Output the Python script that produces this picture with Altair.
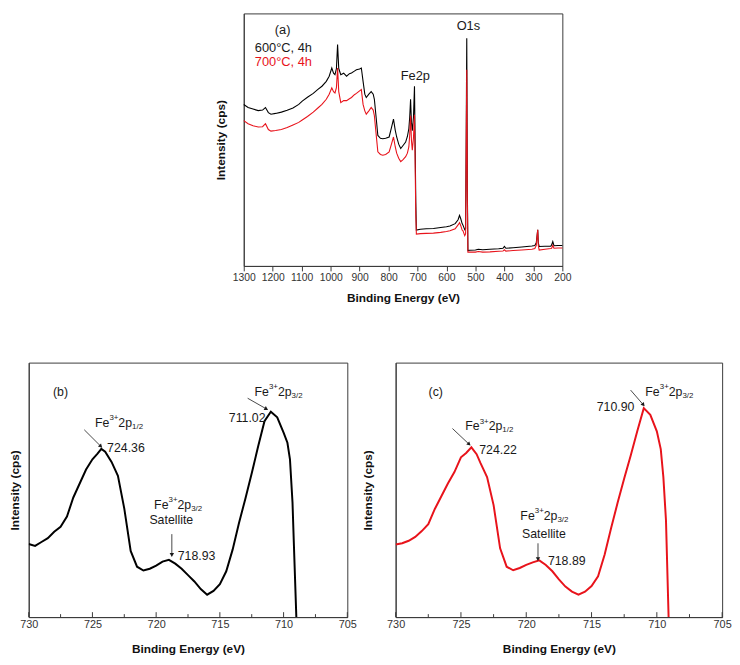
import altair as alt
import pandas as pd

FONT = "Liberation Sans"
BLACK = "#000000"
RED = "#e8131b"
INK = "#1a1a1a"
FRAME = "#3a3a3a"

# ===================== Panel (a): survey spectra =====================
a_ev = [1300, 1285, 1268, 1250, 1235, 1225, 1215, 1206, 1190, 1170,
        1150, 1130, 1110, 1098, 1080, 1060, 1045, 1030, 1015, 1005,
        996, 990, 985, 980, 976, 972, 965, 955, 945, 935,
        928, 918, 911, 900, 894, 888, 882, 877, 868, 860,
        853, 849, 843, 837, 828, 820, 810, 798, 790, 783,
        777, 772, 765, 758, 750, 741, 735, 730, 727, 724,
        721, 718, 714, 710.5, 708, 706, 704, 690, 670, 645,
        620, 600, 588, 570, 560, 555, 551, 546, 543, 537,
        534, 532, 530, 528, 526, 520, 500, 490, 475, 450,
        420, 405, 400, 395, 370, 340, 305, 295, 290, 287,
        285, 283, 280, 260, 240, 237, 233, 229, 215, 200]
a_600 = [63.0, 61.8, 61.2, 60.6, 60.8, 61.8, 59.8, 59.2, 59.5, 60.0,
         60.7, 61.6, 63.0, 64.3, 65.8, 67.3, 68.8, 70.1, 72.0, 74.0,
         77.2, 75.2, 74.6, 77.0, 86.4, 77.0, 74.6, 75.2, 74.0, 75.0,
         75.3, 76.0, 76.5, 76.8, 77.2, 72.0, 67.0, 65.7, 67.0, 68.0,
         67.0, 65.0, 58.0, 50.9, 49.8, 49.6, 49.8, 50.3, 54.0, 57.3,
         53.0, 50.3, 47.5, 45.8, 47.0, 48.3, 50.5, 53.5, 58.0, 65.0,
         56.0, 52.8, 58.0, 70.1, 45.0, 25.0, 14.0, 14.3, 14.5, 14.6,
         15.0, 15.3, 15.6, 16.5, 18.0, 19.7, 18.5, 16.5, 15.9, 14.1,
         14.5, 50.0, 88.8, 30.0, 6.0, 6.1, 6.2, 6.5, 6.3, 6.5,
         6.7, 6.9, 7.6, 6.9, 7.1, 7.4, 7.8, 8.0, 9.0, 12.0,
         14.1, 9.0, 7.6, 7.7, 7.7, 8.2, 9.5, 7.9, 8.0, 8.0]
a_700 = [56.7, 55.5, 54.7, 54.2, 54.3, 55.5, 53.2, 52.6, 52.8, 53.2,
         54.0, 55.0, 56.0, 56.9, 58.3, 60.0, 61.5, 63.0, 65.0, 67.0,
         69.5, 68.0, 67.5, 69.5, 77.2, 68.0, 63.7, 64.5, 64.5, 65.2,
         65.7, 66.8, 67.3, 68.3, 68.8, 63.0, 60.5, 59.2, 60.5, 61.8,
         60.8, 58.6, 51.5, 44.5, 43.5, 43.2, 43.5, 44.5, 47.5, 50.3,
         46.5, 44.0, 42.0, 40.7, 41.5, 42.6, 44.0, 46.4, 51.0, 58.6,
         49.0, 45.1, 50.0, 59.0, 38.0, 20.0, 12.4, 12.6, 12.7, 12.8,
         13.1, 13.4, 13.7, 14.5, 16.0, 16.9, 15.8, 14.0, 13.7, 11.8,
         12.5, 45.0, 76.5, 26.0, 5.4, 5.4, 5.4, 5.6, 5.4, 5.5,
         5.7, 5.8, 6.3, 5.8, 6.0, 6.2, 6.5, 6.8, 8.0, 12.0,
         14.1, 8.0, 6.2, 6.5, 6.8, 6.9, 8.0, 6.9, 7.0, 7.0]
a_ticks = [1300, 1200, 1100, 1000, 900, 800, 700, 600, 500, 400, 300, 200]

a_text = ["(a)", "600°C, 4h", "700°C, 4h", "Fe2p", "O1s"]
a_text_ev = [1193, 1261.6, 1261.6, 758, 565]
a_text_i = [91.9, 85.0, 79.6, 74.0, 93.6]
a_text_col = [INK, INK, RED, INK, INK]

# ===================== Panel (b): Fe 2p, 600 °C =====================
b_ev = [730, 729.5, 729, 728.5, 728, 727.5, 727, 726.5, 726, 725.5,
        725, 724.6, 724.3, 724, 723.5, 723, 722.5, 722, 721.5, 721,
        720.5, 720, 719.5, 719, 718.5, 718, 717.5, 717, 716.5, 716,
        715.5, 715, 714.5, 714, 713.5, 713, 712.5, 712, 711.5, 711,
        710.5, 710, 709.7, 709.5, 709.3, 709.2, 709.0, 708.8]
b_int = [28.7, 28.0, 29.5, 31.0, 33.5, 35.5, 39.5, 47.0, 52.5, 58.0,
         62.0, 64.2, 66.1, 65.0, 61.0, 55.5, 42.6, 26.0, 19.8, 18.3,
         19.0, 20.2, 21.8, 22.5, 21.0, 19.0, 16.5, 14.0, 11.0, 8.8,
         10.3, 12.9, 18.0, 26.5, 37.0, 46.5, 56.5, 67.0, 77.0, 80.7,
         78.5, 72.5, 68.5, 62.0, 45.0, 29.7, 0.0, -6.0]

# ===================== Panel (c): Fe 2p, 700 °C =====================
c_ev = [730, 729.5, 729, 728.5, 728, 727.5, 727, 726.5, 726, 725.5,
        725, 724.6, 724.2, 723.8, 723.5, 723, 722.5, 722, 721.5, 721,
        720.5, 720, 719.5, 719, 718.5, 718, 717.5, 717, 716.5, 716,
        715.5, 715, 714.5, 714, 713.5, 713, 712.5, 712, 711.5, 711,
        710.5, 710, 709.7, 709.5, 709.3, 709.1, 708.9]
c_int = [28.5, 29.0, 30.0, 31.5, 33.8, 36.5, 42.5, 47.5, 52.5, 57.0,
         62.8, 64.5, 66.7, 64.0, 60.5, 55.0, 44.0, 27.0, 19.8, 18.4,
         19.3, 20.5, 21.5, 22.3, 20.5, 18.0, 14.8, 12.0, 10.0, 8.8,
         10.0, 12.2, 16.0, 24.5, 35.0, 45.0, 54.5, 63.5, 73.0, 82.1,
         79.5, 73.0, 66.0, 55.0, 38.0, 0.0, -6.0]

bc_ticks = [730, 725, 720, 715, 710, 705]
bc_minor = [727.5, 722.5, 717.5, 712.5, 707.5]

# annotations (label anchors in data units)
b_fe_ev = [712.28, 724.80, 720.16]
b_fe_i = [88.4, 76.4, 44.2]
b_fe_sub = ["3/2", "1/2", "3/2"]
b_txt = ["(b)", "711.02", "724.36", "718.93", "Satellite"]
b_txt_ev = [728.1, 714.30, 723.85, 718.31, 720.53]
b_txt_i = [88.4, 78.2, 66.3, 24.0, 38.0]
b_arr_ev = [712.82, 725.64, 718.77]
b_arr_i = [86.0, 73.6, 32.6]
b_arr_ev2 = [711.35, 724.34, 718.77]
b_arr_i2 = [81.8, 67.1, 24.4]
b_arr_ang = [120, 135, 180]

c_fe_ev = [710.88, 724.67, 720.45]
c_fe_i = [88.4, 74.9, 39.8]
c_fe_sub = ["3/2", "1/2", "3/2"]
c_txt = ["(c)", "710.90", "724.22", "718.89", "Satellite"]
c_txt_ev = [727.48, 714.60, 723.60, 718.34, 720.32]
c_txt_i = [88.4, 82.6, 65.6, 22.0, 32.8]
c_arr_ev = [712.01, 725.65, 719.10]
c_arr_i = [89.2, 74.1, 29.0]
c_arr_ev2 = [711.03, 724.37, 719.10]
c_arr_i2 = [83.4, 67.9, 22.8]
c_arr_ang = [139, 133, 180]


# ===================== build panel (a) =====================
H_A, W_A = 256, 323
xa = alt.X("eV:Q", scale=alt.Scale(domain=[200, 1300], reverse=True, nice=False, zero=False),
           axis=alt.Axis(values=a_ticks, format="d", title="Binding Energy (eV)", tickSize=5,
                         labelOverlap=False, labelFlush=False, labelPadding=2, labelFontSize=10.5,
                         titlePadding=10, grid=False))
ya = alt.Y("I:Q", scale=alt.Scale(domain=[0, 98.5], nice=False, zero=False),
           axis=alt.Axis(labels=False, ticks=False, grid=False, title="Intensity (cps)", titlePadding=16))

line600 = alt.Chart(pd.DataFrame({"eV": a_ev, "I": a_600})).mark_line(
    color=BLACK, strokeWidth=1.1).encode(x=xa, y=ya)
line700 = alt.Chart(pd.DataFrame({"eV": a_ev, "I": a_700})).mark_line(
    color=RED, strokeWidth=1.1).encode(x=xa, y=ya)
txt_a = alt.Chart(pd.DataFrame({"eV": a_text_ev, "I": a_text_i, "t": a_text, "c": a_text_col})).mark_text(
    align="left", baseline="middle", fontSize=13).encode(
    x=xa, y=ya, text="t:N", color=alt.Color("c:N", scale=None))
panel_a = alt.layer(line600, line700, txt_a).properties(width=W_A, height=H_A)

spacer = alt.Chart(pd.DataFrame({"v": [0]})).mark_text(text="").encode(
    x=alt.value(100), y=alt.value(5)).properties(
    width=188, height=10, view=alt.ViewBackground(strokeOpacity=0))


# ===================== build panels (b), (c) =====================
def fe_panel(ev, inten, color, fe_ev, fe_i, fe_sub, txt, txt_ev, txt_i,
             arr_ev, arr_i, arr_ev2, arr_i2, arr_ang, W, H, tpad):
    x = alt.X("eV:Q", scale=alt.Scale(domain=[705, 730], reverse=True, nice=False, zero=False),
              axis=alt.Axis(values=bc_ticks, format="d", ticks=False, labelPadding=2, labelFontSize=11,
                            labelOverlap=False, labelFlush=False, title="Binding Energy (eV)",
                            titlePadding=14, grid=False))
    y = alt.Y("I:Q", scale=alt.Scale(domain=[0, 100], nice=False, zero=False),
              axis=alt.Axis(labels=False, ticks=False, grid=False, title="Intensity (cps)", titlePadding=tpad))
    line = alt.Chart(pd.DataFrame({"eV": ev, "I": inten})).mark_line(
        color=color, strokeWidth=2, clip=True).encode(x=x, y=y)
    major = alt.Chart(pd.DataFrame({"eV": bc_ticks})).mark_rule(color=FRAME).encode(
        x=x, y=alt.value(H), y2=alt.value(H - 5))
    minor = alt.Chart(pd.DataFrame({"eV": bc_minor})).mark_rule(color=FRAME).encode(
        x=x, y=alt.value(H), y2=alt.value(H - 3))
    fe = alt.Chart(pd.DataFrame({"eV": fe_ev, "I": fe_i, "sub": fe_sub}))
    f1 = fe.mark_text(text="Fe", align="left", baseline="middle", fontSize=12.5, color=INK).encode(x=x, y=y)
    f2 = fe.mark_text(text="3+", align="left", baseline="middle", fontSize=8, dx=14.6, dy=-5,
                      color=INK).encode(x=x, y=y)
    f3 = fe.mark_text(text="2p", align="left", baseline="middle", fontSize=12.5, dx=23.7,
                      color=INK).encode(x=x, y=y)
    f4 = fe.mark_text(align="left", baseline="middle", fontSize=8, dx=37.6, dy=4,
                      color=INK).encode(x=x, y=y, text="sub:N")
    txts = alt.Chart(pd.DataFrame({"eV": txt_ev, "I": txt_i, "t": txt})).mark_text(
        align="left", baseline="middle", fontSize=12.5, color=INK).encode(x=x, y=y, text="t:N")
    arr = alt.Chart(pd.DataFrame({"eV": arr_ev, "I": arr_i, "eV2": arr_ev2, "I2": arr_i2})).mark_rule(
        color=INK, strokeWidth=0.8).encode(x=x, y=y, x2="eV2:Q", y2="I2:Q")
    heads = alt.Chart(pd.DataFrame({"eV": arr_ev2, "I": arr_i2, "ang": arr_ang})).mark_point(
        shape="triangle-up", filled=True, size=20, color=INK, opacity=1).encode(
        x=x, y=y, angle=alt.Angle("ang:Q", scale=None))
    return alt.layer(line, major, minor, arr, heads, f1, f2, f3, f4, txts).properties(width=W, height=H)


panel_b = fe_panel(b_ev, b_int, BLACK, b_fe_ev, b_fe_i, b_fe_sub, b_txt, b_txt_ev, b_txt_i,
                   b_arr_ev, b_arr_i, b_arr_ev2, b_arr_i2, b_arr_ang, 323, 258, 7)
panel_c = fe_panel(c_ev, c_int, RED, c_fe_ev, c_fe_i, c_fe_sub, c_txt, c_txt_ev, c_txt_i,
                   c_arr_ev, c_arr_i, c_arr_ev2, c_arr_i2, c_arr_ang, 331, 258, 21)

top = alt.hconcat(spacer, panel_a, spacing=0)
bottom = alt.hconcat(panel_b, panel_c, spacing=4)

chart = alt.vconcat(top, bottom, spacing=58).properties(
    padding={"left": 0, "top": 0, "right": 0, "bottom": 0}
).configure(font=FONT).configure_view(
    stroke=FRAME, strokeWidth=1
).configure_axis(
    domainColor=FRAME, domainWidth=1, tickColor=FRAME, labelColor="#333333", titleColor="#111111",
    labelFont=FONT, titleFont=FONT, titleFontWeight="bold", titleFontSize=12
)

chart.save("out.html", embed_options={"renderer": "svg", "actions": False})
